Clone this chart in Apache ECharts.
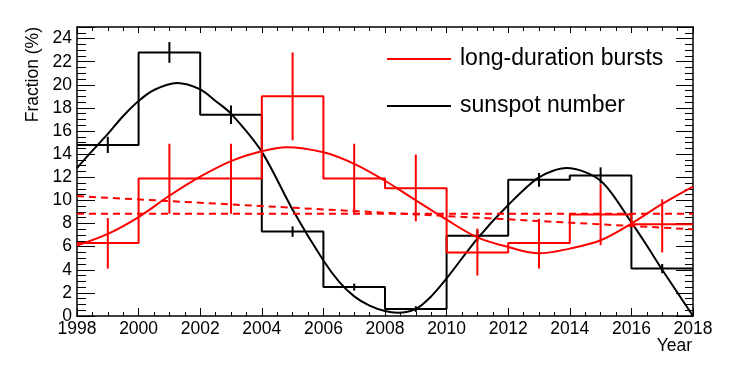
<!DOCTYPE html>
<html>
<head>
<meta charset="utf-8">
<script src="https://cdn.jsdelivr.net/npm/echarts@6/dist/echarts.min.js"></script>
<style>html,body{margin:0;padding:0;background:#fff;}#c{width:739px;height:380px;}</style>
</head>
<body>
<div id="c"></div>
<script>
// Bin edges (2-year bins)
var binEdges = [1998, 2000, 2002, 2004, 2006, 2008, 2010, 2012, 2014, 2016, 2018];
var binCenters = [1999, 2001, 2003, 2005, 2007, 2009, 2011, 2013, 2015, 2017];

// Sunspot number fraction (%) per bin and its errors
var sunspotValues = [14.8, 22.8, 17.4, 7.3, 2.5, 0.6, 6.95, 11.78, 12.16, 4.1];
var sunspotErrors = [0.7, 0.9, 0.8, 0.45, 0.3, 0.25, 0.5, 0.6, 0.7, 0.4];

// Long-duration bursts fraction (%) per bin, lower / upper ends of error bars
var burstValues = [6.32, 11.9, 11.9, 19.0, 11.9, 11.06, 5.5, 6.32, 8.77, 7.93];
var burstLow  = [4.1, 8.85, 8.85, 15.2, 8.85, 8.19, 3.5, 4.1, 6.12, 5.5];
var burstHigh = [8.47, 14.9, 14.9, 22.8, 14.9, 13.97, 7.56, 8.42, 11.4, 10.1];

// Fit curves (year, value)
var sunspotFitYears = [1998, 1998.5, 1999, 1999.5, 2000, 2000.5, 2001.25, 2002, 2002.5, 2003, 2004, 2005, 2006, 2006.5, 2007, 2007.5, 2008, 2008.4, 2009, 2009.5, 2010, 2011, 2012, 2013, 2013.9, 2015, 2016, 2016.5, 2017, 2018];
var sunspotFit = [12.8, 14.3, 15.75, 17.3, 18.6, 19.55, 20.15, 19.6, 18.6, 17.5, 14.2, 9.2, 4.8, 3.0, 1.7, 0.9, 0.43, 0.29, 0.6, 1.7, 3.25, 6.7, 9.6, 12.0, 12.8, 11.7, 8.1, 6.1, 4.0, 0.0];
var burstFitYears = [1998, 1999, 2000, 2001, 2002, 2003, 2004, 2004.8, 2006, 2007, 2008, 2009, 2010, 2011, 2012, 2013, 2014, 2015, 2016, 2017, 2018];
var burstFit = [6.1, 7.1, 8.56, 10.4, 12.05, 13.4, 14.25, 14.6, 14.16, 13.16, 11.7, 10.0, 8.33, 6.8, 5.97, 5.42, 5.83, 6.55, 8.0, 9.7, 11.2];

// Dashed reference lines (endpoints at 1998 and 2018)
var dashYears = [1998, 2018];
var flatLine = [8.85, 8.85];
var slopeLine = [10.37, 7.5];

// Axis ranges
var xRange = [1998, 2018];
var yRange = [0, 25];

function stepData(vals) {
  var d = [];
  for (var i = 0; i < vals.length; i++) d.push([binEdges[i], vals[i]]);
  d.push([binEdges[vals.length], vals[vals.length - 1]]);
  return d;
}
function zip(xs, ys) { return xs.map(function (x, i) { return [x, ys[i]]; }); }

var RED = '#ff0000';
var FONT = 'Liberation Sans, Arial, Helvetica, sans-serif';

function errRender(color) {
  return function (params, api) {
    var p1 = api.coord([api.value(0), api.value(1)]);
    var p2 = api.coord([api.value(0), api.value(2)]);
    return {
      type: 'line',
      shape: { x1: p1[0], y1: p1[1], x2: p2[0], y2: p2[1] },
      style: { stroke: color, lineWidth: 2 }
    };
  };
}

var chart = echarts.init(document.getElementById('c'), null, { renderer: 'canvas' });

var axisLine = { show: true, onZero: false, lineStyle: { color: '#000', width: 1.5 } };

chart.setOption({
  animation: false,
  backgroundColor: '#fff',
  grid: { left: 77, right: 46, top: 27, bottom: 64, containLabel: false },
  legend: {
    orient: 'vertical',
    left: 387,
    top: 47,
    padding: 0,
    itemWidth: 64,
    itemHeight: 2,
    itemGap: 23,
    icon: 'rect',
    selectedMode: false,
    data: ['long-duration bursts', 'sunspot number'],
    textStyle: { fontFamily: FONT, fontSize: 23, color: '#000', lineHeight: 24, padding: [0, 0, 0, 4] }
  },
  xAxis: [{
    type: 'value', min: xRange[0], max: xRange[1], interval: 2, position: 'bottom',
    axisLine: axisLine,
    axisTick: { show: true, inside: true, length: 8, lineStyle: { color: '#000', width: 1 } },
    minorTick: { show: true, splitNumber: 4, length: 4, lineStyle: { color: '#000', width: 1 } },
    splitLine: { show: false },
    axisLabel: { color: '#000', fontFamily: FONT, fontSize: 17.5, margin: 4, formatter: function (v) { return String(v); } }
  }, {
    type: 'value', min: xRange[0], max: xRange[1], interval: 2, position: 'top',
    axisLine: axisLine,
    axisTick: { show: true, inside: true, length: 6, lineStyle: { color: '#000', width: 1 } },
    minorTick: { show: true, splitNumber: 4, length: 4, lineStyle: { color: '#000', width: 1 } },
    splitLine: { show: false },
    axisLabel: { show: false }
  }],
  yAxis: [{
    type: 'value', min: yRange[0], max: yRange[1], interval: 2, position: 'left',
    axisLine: axisLine,
    axisTick: { show: true, inside: true, length: 18, lineStyle: { color: '#000', width: 1 } },
    minorTick: { show: true, splitNumber: 4, length: 9, lineStyle: { color: '#000', width: 1 } },
    splitLine: { show: false },
    axisLabel: { color: '#000', fontFamily: FONT, fontSize: 17.5, margin: 5, showMaxLabel: false }
  }, {
    type: 'value', min: yRange[0], max: yRange[1], interval: 2, position: 'right',
    axisLine: axisLine,
    axisTick: { show: true, inside: true, length: 17, lineStyle: { color: '#000', width: 1 } },
    minorTick: { show: true, splitNumber: 4, length: 8, lineStyle: { color: '#000', width: 1 } },
    splitLine: { show: false },
    axisLabel: { show: false }
  }],
  graphic: [{
    type: 'text', x: 33, y: 27, rotation: Math.PI / 2,
    style: { text: 'Fraction (%)', fontFamily: FONT, fontSize: 17.5, fill: '#000', align: 'right', verticalAlign: 'middle' }
  }, {
    type: 'text', x: 692, y: 346,
    style: { text: 'Year', fontFamily: FONT, fontSize: 17.5, fill: '#000', align: 'right', verticalAlign: 'middle' }
  }],
  series: [{
    name: 'sunspot histogram', type: 'line', step: 'end', data: stepData(sunspotValues),
    showSymbol: false, symbol: 'none', lineStyle: { color: '#000', width: 2 }, itemStyle: { color: '#000' }, z: 2
  }, {
    name: 'sunspot errors', type: 'custom', renderItem: errRender('#000'),
    data: binCenters.map(function (x, i) { return [x, sunspotValues[i] - sunspotErrors[i], sunspotValues[i] + sunspotErrors[i]]; }),
    encode: { x: 0, y: [1, 2] }, z: 2
  }, {
    name: 'sunspot number', type: 'line', smooth: 0.3, data: zip(sunspotFitYears, sunspotFit),
    showSymbol: false, symbol: 'none', lineStyle: { color: '#000', width: 2 }, itemStyle: { color: '#000' }, z: 3
  }, {
    name: 'bursts histogram', type: 'line', step: 'end', data: stepData(burstValues),
    showSymbol: false, symbol: 'none', lineStyle: { color: RED, width: 2 }, itemStyle: { color: RED }, z: 4
  }, {
    name: 'bursts errors', type: 'custom', renderItem: errRender(RED),
    data: binCenters.map(function (x, i) { return [x, burstLow[i], burstHigh[i]]; }),
    encode: { x: 0, y: [1, 2] }, z: 4
  }, {
    name: 'long-duration bursts', type: 'line', smooth: 0.35, data: zip(burstFitYears, burstFit),
    showSymbol: false, symbol: 'none', lineStyle: { color: RED, width: 2 }, itemStyle: { color: RED }, z: 5
  }, {
    name: 'flat', type: 'line', data: zip(dashYears, flatLine),
    showSymbol: false, symbol: 'none', lineStyle: { color: RED, width: 2, type: [7, 5] }, z: 5
  }, {
    name: 'slope', type: 'line', data: zip(dashYears, slopeLine),
    showSymbol: false, symbol: 'none', lineStyle: { color: RED, width: 2, type: [7, 5] }, z: 5
  }]
});
</script>
</body>
</html>
